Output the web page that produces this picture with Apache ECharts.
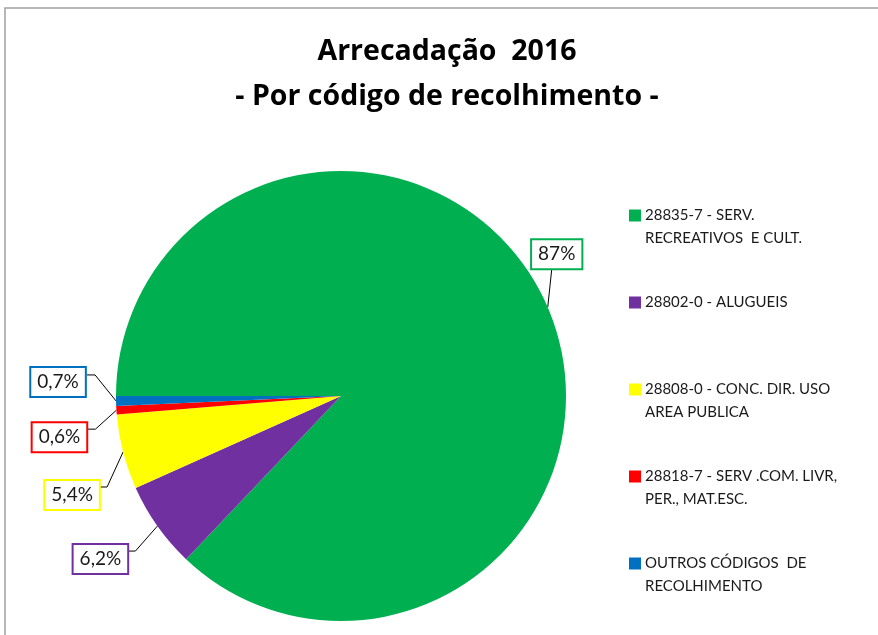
<!DOCTYPE html>
<html><head><meta charset="utf-8">
<script src="https://cdn.jsdelivr.net/npm/echarts@6/dist/echarts.min.js"></script>
<style>html,body{margin:0;padding:0;background:#fff}#c{width:878px;height:635px}</style>
</head><body><div id="c"></div>
<script>
const categories = [
  '28835-7 - SERV.\nRECREATIVOS  E CULT.',
  '28802-0 - ALUGUEIS',
  '28808-0 - CONC. DIR. USO\nAREA PUBLICA',
  '28818-7 - SERV .COM. LIVR,\nPER., MAT.ESC.',
  'OUTROS CÓDIGOS  DE\nRECOLHIMENTO'
];
const values = [87, 6.2, 5.4, 0.6, 0.7];
const valueLabels = ['87%', '6,2%', '5,4%', '0,6%', '0,7%'];
const colors = ['#00B050', '#7030A0', '#FFFF00', '#FF0000', '#0070C0'];

// label layout (style): box centre offset and elbow offset from the slice edge anchor
const boxOff = [[9,-53],[-57,33],[-51,43],[-57,27],[-58,-19]];
const elbowOff = [[4,-38],[-22,25],[-16,35],[-21,19],[-21,-26]];
const endShift = [0,-8,-8,-8,-8];

const FONT = 'Lato, "Open Sans", sans-serif';
const chart = echarts.init(document.getElementById('c'), null, {renderer:'canvas'});

const rich = { t: {fontSize: 15, fontFamily: FONT, color: '#1a1a1a', lineHeight: 23}, sp: {width: 16, height: 12} };
colors.forEach((c, i) => { rich['c' + i] = {width: 12, height: 12, backgroundColor: c}; rich['g' + i] = {width: 4, height: 12}; });

chart.setOption({
  animation: false,
  graphic: [{type:'rect', shape:{x:5, y:8, width:900, height:700}, style:{fill:'none', stroke:'#a0a0a0', lineWidth:1.5}, silent:true}],
  title: {
    text: 'Arrecadação  2016\n- Por código de recolhimento -',
    left: 447, top: 29, textAlign: 'center', padding: 0,
    textStyle: {fontFamily: '"Open Sans", Lato, sans-serif', fontWeight: 'bold', fontSize: 28.5, lineHeight: 45, color: '#000'}
  },
  legend: {
    orient: 'vertical', left: 624, top: 204, padding: 0, itemWidth: 0, itemHeight: 0, itemGap: 41, icon: 'rect',
    selectedMode: false,
    data: categories,
    formatter: function (name) {
      const i = categories.indexOf(name);
      const lines = name.split('\n');
      return '{c' + i + '|}{g' + i + '|}{t|' + lines[0] + '}\n{sp|}{t|' + (lines[1] || ' ') + '}';
    },
    textStyle: {rich: rich, fontFamily: FONT, fontSize: 15, lineHeight: 23},
  },
  series: [{
    type: 'pie', center: [341, 396], radius: 225, startAngle: 180, clockwise: true,
    avoidLabelOverlap: false,
    data: categories.map((n, i) => ({name: n, value: values[i], itemStyle: {color: colors[i]},
      label: {borderColor: colors[i]}})),
    label: {
      show: true, position: 'outside',
      formatter: p => valueLabels[p.dataIndex],
      fontFamily: FONT, fontSize: 19, color: '#1a1a1a', lineHeight: 22,
      backgroundColor: '#fff', borderWidth: 2, padding: [4, 6, 2, 6]
    },
    labelLine: {show: true, length: 10, length2: 10, lineStyle: {color: '#000', width: 1}},
    labelLayout: function (params) {
      const i = params.dataIndex;
      const a = params.labelLinePoints[0];
      const e = [a[0] + elbowOff[i][0], a[1] + elbowOff[i][1]];
      const end = [e[0] + endShift[i], e[1]];
      return {
        x: a[0] + boxOff[i][0], y: a[1] + boxOff[i][1], align: 'center', verticalAlign: 'middle',
        labelLinePoints: [a, e, end]
      };
    },
    emphasis: {disabled: true}
  }]
});
</script></body></html>
